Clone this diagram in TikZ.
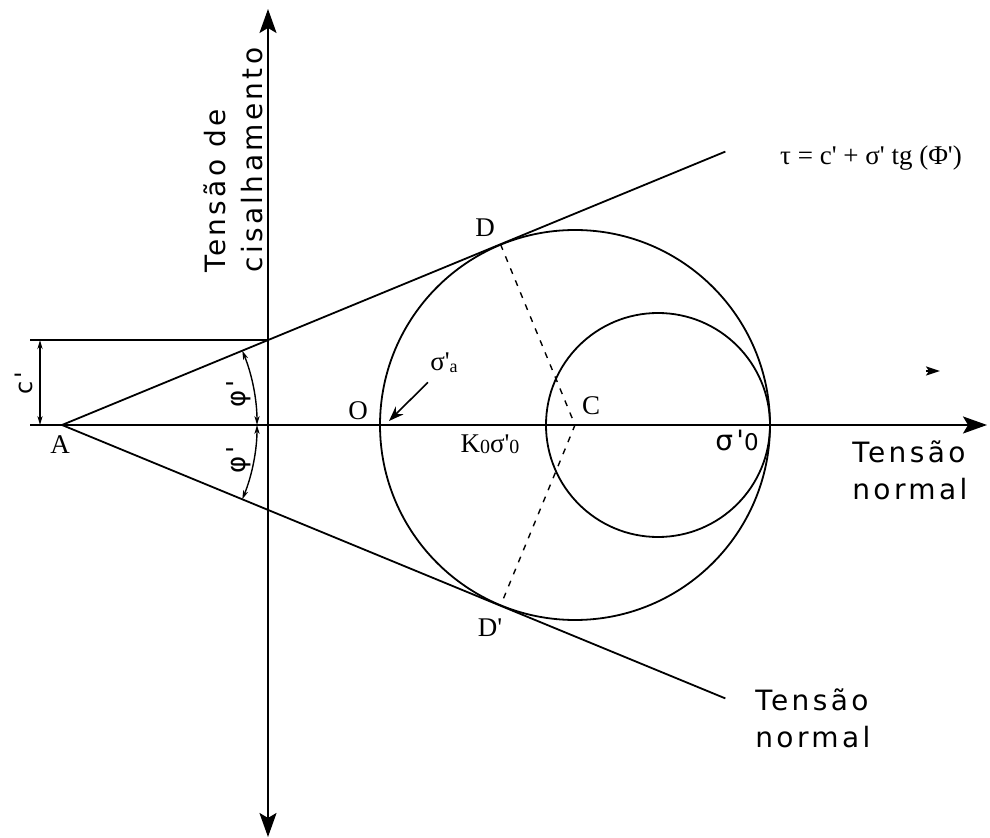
\documentclass[tikz,border=0pt]{standalone}
\usepackage{fontspec}
\setmainfont{Liberation Serif}
\newfontfamily\cadfont[LetterSpace=12]{DejaVu Sans}
\newcommand\prm{\textquotesingle}
\usetikzlibrary{arrows.meta, calc}

\begin{document}
\begin{tikzpicture}[x=0.5pt, y=0.5pt,
    axis/.style={line width=1.1pt, -{Stealth[length=12pt, width=8.5pt, inset=2.5pt]}},
    envelope/.style={line width=0.9pt},
    radius line/.style={line width=0.7pt, dash pattern=on 3pt off 3.5pt},
    dim/.style={line width=0.7pt, {Stealth[length=4.5pt, width=2.6pt]}-{Stealth[length=4.5pt, width=2.6pt]}},
    cad/.style={font=\cadfont\fontsize{14}{18.5}\selectfont, align=left, inner sep=0pt},
    lbl/.style={font=\fontsize{13.5}{15}\selectfont, inner sep=0pt}]
  \useasboundingbox (0,-838) rectangle (990,0);

  % key points
  \coordinate (A) at (62,-425);
  \coordinate (C) at (575,-425);
  \coordinate (S) at (658,-425);
  \coordinate (D) at ($(A)+(22.4:474.3)$);
  \coordinate (Dp) at ($(A)+(-22.4:474.3)$);
  \coordinate (Eup) at ($(A)+(22.4:717.5)$);
  \coordinate (Elow) at ($(A)+(-22.4:717.5)$);
  \coordinate (Cc) at (268,-340.1);
  \coordinate (orig) at (268,-425);

  % axes
  \draw[axis] (30,-425) -- (987,-425);
  \draw[axis] (orig) -- (268,-9);
  \draw[axis] (orig) -- (268,-837);

  % failure envelope and circles
  \draw[envelope] (A) -- (Eup);
  \draw[envelope] (A) -- (Elow);
  \draw[envelope] (30,-340.1) -- (Cc);
  \draw[envelope] (C) circle[radius=195];
  \draw[envelope] (S) circle[radius=112];
  \draw[radius line] (D) -- (C) -- (Dp);

  % dimensions
  \draw[dim] (40,-340.1) -- (40,-425);
  \draw[dim] ($(A)+(22.4:195)$) arc[start angle=22.4, end angle=0, radius=195];
  \draw[dim] ($(A)+(-22.4:195)$) arc[start angle=-22.4, end angle=0, radius=195];
  \node[cad, rotate=90, font=\cadfont\fontsize{12}{12}\selectfont] (cl) at (24,-383) {c'};
  \node[cad, rotate=90, font=\cadfont\fontsize{13}{13}\selectfont] (phiup) at (239,-394) {φ'};
  \node[cad, rotate=90, font=\cadfont\fontsize{13}{13}\selectfont] (philow) at (239,-460) {φ'};

  % point labels
  \node[lbl] (Albl) at (60,-445) {A};
  \node[lbl] (Olbl) at (358,-411) {O};
  \node[lbl] (Clbl) at (591,-406) {C};
  \node[lbl] (Dlbl) at (485,-228) {D};
  \node[lbl] (Dplbl) at (490,-628) {D\prm};
  \node[lbl] (sa) at (444,-363) {σ\prm\raisebox{-1pt}{\small a}};
  \node[lbl] (k0) at (490,-444) {K\raisebox{-0.5pt}{\normalsize 0}σ\prm\raisebox{-0.5pt}{\normalsize 0}};
  \node[cad] (s0) at (737,-440) {σ'\fontsize{11.5}{11.5}\selectfont 0};
  \coordinate (satip) at (389,-421);
  \draw[line width=0.8pt, -{Stealth[length=7.5pt, width=5.5pt]}] ($(sa.south west)+(-2,-9)$) -- (satip);
  \draw[line width=1pt, -{Stealth[length=7pt, width=4.5pt, inset=1.5pt]}] (926,-371) -- (940,-371);

  % texts
  \node[lbl, font=\fontsize{13.5}{15}\selectfont] (eq) at (871,-158) {τ = c\prm{} + σ\prm{} tg (Φ\prm)};
  \node[cad, rotate=90, anchor=north west] (ylbl) at (203,-273) {Tensão de\\cisalhamento};
  \node[cad, anchor=north west] (xlbl) at (852,-440) {Tensão\\normal};
  \node[cad, anchor=north west] (elbl) at (755,-688) {Tensão\\normal};
\end{tikzpicture}
\end{document}
